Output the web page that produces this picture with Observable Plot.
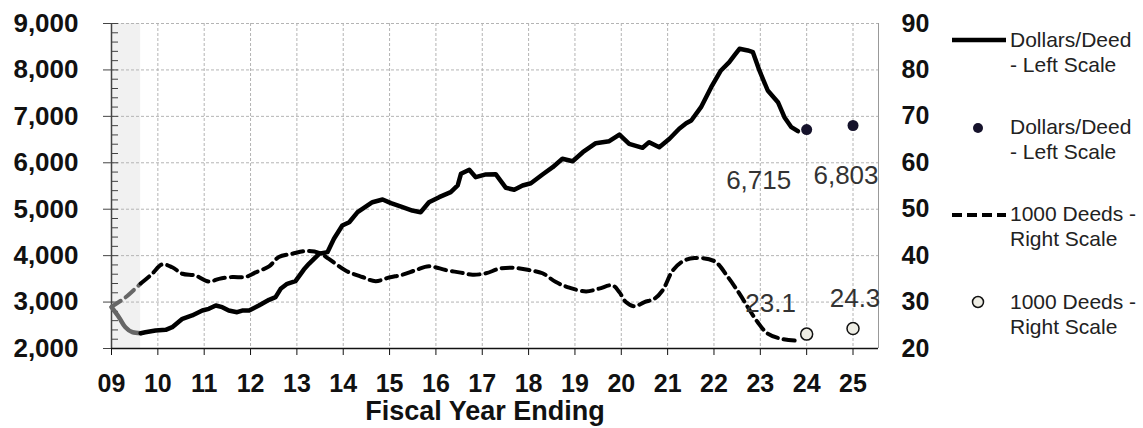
<!DOCTYPE html>
<html><head><meta charset="utf-8">
<script src="https://cdn.jsdelivr.net/npm/d3@7"></script>
<script src="https://cdn.jsdelivr.net/npm/@observablehq/plot@0.6"></script>
<style>
body{margin:0;background:#fff;font-family:"Liberation Sans",Arial,sans-serif;}
#wrap{position:relative;width:1143px;height:428px;overflow:hidden}
.lg{position:absolute;left:1010px;font-size:21px;line-height:25px;color:#222;white-space:nowrap}
#lgsvg{position:absolute;left:0;top:0}
</style></head><body><div id="wrap"></div>
<script>
// ---- data ----
const dollarsYear = [9.00,9.16,9.30,9.45,9.63,9.73,9.95,10.17,10.31,10.53,10.74,10.96,11.10,11.25,11.39,11.53,11.71,11.82,11.97,12.18,12.40,12.54,12.65,12.79,12.97,13.15,13.26,13.48,13.66,13.80,13.98,14.13,14.31,14.63,14.85,15.03,15.28,15.49,15.67,15.85,16.07,16.32,16.47,16.54,16.72,16.86,17.08,17.29,17.51,17.69,17.87,18.05,18.30,18.52,18.73,18.95,19.17,19.45,19.74,19.96,20.17,20.46,20.60,20.82,21.04,21.25,21.40,21.51,21.72,21.94,22.15,22.33,22.44,22.55,22.73,22.84,22.98,23.16,23.38,23.52,23.67,23.81];
const dollarsValue = [2890,2675,2459,2351,2330,2351,2388,2403,2459,2640,2711,2818,2855,2926,2890,2818,2782,2818,2818,2926,3049,3105,3286,3393,3450,3700,3824,4040,4075,4363,4649,4720,4936,5151,5209,5130,5044,4972,4936,5151,5259,5367,5511,5763,5849,5690,5750,5755,5461,5418,5511,5560,5748,5905,6086,6034,6228,6422,6465,6609,6409,6323,6444,6336,6517,6732,6850,6911,7198,7628,7988,8168,8311,8455,8419,8382,7988,7557,7305,6982,6767,6680];
const deedsYear = [9.00,9.30,9.63,9.88,10.09,10.31,10.53,10.81,11.10,11.32,11.61,11.89,12.11,12.40,12.61,12.90,13.19,13.48,13.69,14.05,14.41,14.70,14.99,15.28,15.57,15.85,16.21,16.50,16.79,17.08,17.37,17.65,18.01,18.30,18.59,18.88,19.24,19.52,19.81,19.96,20.10,20.28,20.50,20.71,20.89,21.11,21.33,21.58,22.01,22.30,22.55,22.73,22.94,23.16,23.45,23.77];
const deedsValue = [29.0,31.0,34.0,36.1,38.1,37.5,36.1,35.7,34.4,35.0,35.4,35.4,36.4,37.7,39.7,40.4,41.0,40.6,39.3,36.8,35.4,34.5,35.3,35.9,36.9,37.7,36.9,36.4,35.9,36.2,37.2,37.4,36.9,36.2,34.3,33.1,32.3,32.9,33.6,32.1,30.0,29.1,30.0,30.7,32.5,36.8,38.8,39.5,38.8,35.4,31.8,28.9,25.7,23.2,22.1,21.7];
const pointYears = [24, 25];
const pointDollars = [6715, 6803];
const pointDeeds = [23.1, 24.3];
const yearTicks = [9,10,11,12,13,14,15,16,17,18,19,20,21,22,23,24,25];
const leftTicks = [2000,3000,4000,5000,6000,7000,8000,9000];
const rightTickLabels = [20,30,40,50,60,70,80,90];
const xDomain = [9, 25.55];
const yDomain = [2000, 9000];
const shadedPeriod = [9, 9.63];
const legendLabels = ["Dollars/Deed<br>- Left Scale","Dollars/Deed<br>- Left Scale","1000 Deeds -<br>Right Scale","1000 Deeds -<br>Right Scale"];

// ---- build ----
const toLeft = r => yDomain[0] + (r - rightTickLabels[0]) * (yDomain[1]-yDomain[0])/(rightTickLabels[rightTickLabels.length-1]-rightTickLabels[0]);
const minorTicks = d3.range(yDomain[0], yDomain[1] + 1, 200);
const dollars = dollarsYear.map((x,i)=>({x, y: dollarsValue[i]}));
const deeds = deedsYear.map((x,i)=>({x, y: toLeft(deedsValue[i])}));
const pts = pointYears.map((x,i)=>({x, d: pointDollars[i], r: toLeft(pointDeeds[i]), rv: pointDeeds[i]}));
const gEnd = shadedPeriod[1];
const W = 1143, ML = 111, MR = 265;
const innerW = W - ML - MR;
const fmt = d3.format(",");
const gridStyle = {stroke:"#b4b4b4", strokeOpacity:1, strokeDasharray:"3,2"};

const plot = Plot.plot({
  width: W, height: 428, marginLeft: ML, marginRight: MR, marginTop: 23, marginBottom: 80,
  x: {domain: xDomain}, y: {domain: yDomain},
  style: {fontFamily: "'Liberation Sans', Arial, sans-serif", background: "transparent", color: "#111"},
  marks: [
    Plot.rect([shadedPeriod], {x1: d=>d[0], x2: d=>d[1], y1: yDomain[0], y2: yDomain[1], fill: "#f1f1f1"}),
    Plot.gridX(yearTicks.slice(1), gridStyle),
    Plot.gridY(leftTicks.slice(1), gridStyle),
    Plot.tickY(minorTicks, {y: d=>d, stroke: "#444", insetRight: innerW - 7}),
    Plot.axisY(leftTicks, {tickSize: 8, tickPadding: 25, tickFormat: fmt, fontSize: 26, fontWeight: "bold", label: null, stroke: "#444"}),
    Plot.axisY(leftTicks, {anchor: "right", tickSize: 0, tickPadding: 23, tickFormat: (d,i) => rightTickLabels[leftTicks.indexOf(d)], fontSize: 25, fontWeight: "bold", label: null}),
    Plot.axisX(yearTicks, {tickSize: 7, tickPadding: 19, tickFormat: d => String(d).padStart(2, "0"), fontSize: 25, fontWeight: "bold", label: null, stroke: "#111"}),
    Plot.ruleX([xDomain[0]], {stroke: "#444", strokeWidth: 1.5}),
    Plot.ruleX([xDomain[1]], {stroke: "#999", strokeWidth: 1}),
    Plot.ruleY([yDomain[0]], {stroke: "#111", strokeWidth: 1.5}),
    Plot.line(deeds.filter(d=>d.x<=gEnd), {x:"x", y:"y", stroke:"#666", strokeWidth:4, strokeDasharray:"11,6", curve:"catmull-rom"}),
    Plot.line(deeds.filter(d=>d.x>=gEnd), {x:"x", y:"y", stroke:"#000", strokeWidth:4, strokeDasharray:"11,6", curve:"catmull-rom"}),
    Plot.line(dollars.filter(d=>d.x<=gEnd), {x:"x", y:"y", stroke:"#666", strokeWidth:4.5, curve:"catmull-rom"}),
    Plot.line(dollars.filter(d=>d.x>=gEnd), {x:"x", y:"y", stroke:"#000", strokeWidth:4.5, strokeLinejoin:"round", strokeLinecap:"round"}),
    Plot.dot(pts, {x:"x", y:"d", r:5.5, fill:"#15122b"}),
    Plot.dot(pts, {x:"x", y:"r", r:6, fill:"#eeede4", stroke:"#111", strokeWidth:1.5}),
    Plot.text(pts.slice(0,1), {x:"x", y:"d", text: d=>fmt(d.d), dx:-48, dy:51, fontSize:26, fill:"#333"}),
    Plot.text(pts.slice(1,2), {x:"x", y:"d", text: d=>fmt(d.d), dx:-7, dy:50, fontSize:26, fill:"#333"}),
    Plot.text(pts.slice(0,1), {x:"x", y:"r", text: d=>d.rv.toFixed(1), dx:-36, dy:-30, fontSize:26, fill:"#333"}),
    Plot.text(pts.slice(1,2), {x:"x", y:"r", text: d=>d.rv.toFixed(1), dx:2, dy:-30, fontSize:26, fill:"#333"}),
    Plot.text(["Fiscal Year Ending"], {frameAnchor:"bottom", dy:71, dx:-10, fontSize:27, fontWeight:"bold", fill:"#111"})
  ]
});
const wrap = document.getElementById("wrap");
wrap.appendChild(plot);

// ---- legend ----
const lg = d3.select(wrap).append("svg").attr("id","lgsvg").attr("width",W).attr("height",428);
lg.append("line").attr("x1",952).attr("x2",1006).attr("y1",40).attr("y2",40).attr("stroke","#000").attr("stroke-width",4.5);
lg.append("circle").attr("cx",978).attr("cy",128).attr("r",5).attr("fill","#15122b");
lg.append("line").attr("x1",952).attr("x2",1006).attr("y1",215).attr("y2",215).attr("stroke","#000").attr("stroke-width",4).attr("stroke-dasharray","10,5");
lg.append("circle").attr("cx",978).attr("cy",302).attr("r",5.5).attr("fill","#eeede4").attr("stroke","#111").attr("stroke-width",1.5);
const tops = [27, 114, 201, 289];
legendLabels.forEach((t,i)=>{
  const d = document.createElement("div");
  d.className = "lg"; d.style.top = tops[i] + "px"; d.innerHTML = t;
  wrap.appendChild(d);
});
</script></body></html>
